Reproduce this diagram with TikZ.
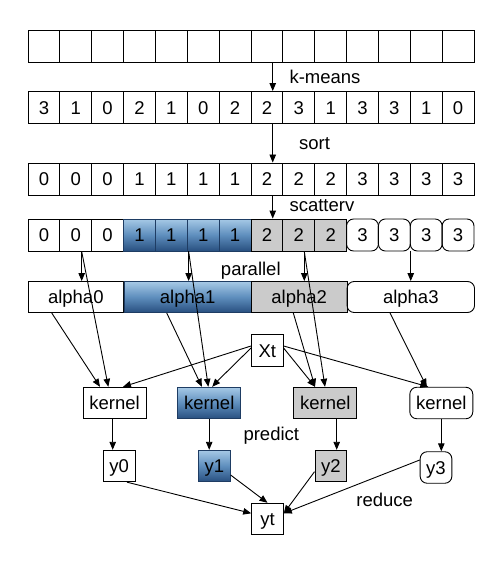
\documentclass[tikz,border=0pt]{standalone}
\usepackage{fontspec}
\setmainfont{Liberation Sans}
\usetikzlibrary{arrows.meta}
\definecolor{bluetop}{HTML}{A6C9E6}
\definecolor{bluemid}{HTML}{5E8EBD}
\definecolor{bluebot}{HTML}{284F7F}
\definecolor{blueline}{HTML}{1E3C63}
\definecolor{grayfill}{HTML}{CBCBCB}
\begin{document}
\begin{tikzpicture}[x=1pt,y=-1pt,
  font=\fontsize{18.5}{20}\selectfont,
  base/.style={draw=black, line width=0.9pt, inner sep=0pt, text height=13.2pt, text depth=0pt},
  cell/.style={base, minimum width=31.857pt, minimum height=32pt},
  bluebox/.style={draw=blueline, top color=bluetop, bottom color=bluebot, middle color=bluemid},
  graybox/.style={fill=grayfill},
  roundbox/.style={rounded corners=7pt},
  kbox/.style={base, minimum width=63pt, minimum height=31.5pt},
  ybox/.style={base, minimum width=31.7pt, minimum height=31.5pt},
  lbl/.style={inner sep=0pt, text height=13.2pt, text depth=0pt},
  arr/.style={line width=0.9pt, -{Triangle[length=8pt,width=6.5pt]}},
  ln/.style={line width=0.9pt}
]
\useasboundingbox (0,0) rectangle (495,569);
\fill[white] (0,0) rectangle (495,569);

% row 1 (empty)
\foreach \i in {0,...,13}
  \node[cell] (r1c\i) at ({28+(\i+0.5)*31.857},46) {};
% row 2 (k-means)
\foreach \v [count=\j from 0] in {3,1,0,2,1,0,2,2,3,1,3,3,1,0}
  \node[cell] (r2c\j) at ({28+(\j+0.5)*31.857},107.5) {\v};
% row 3 (sorted)
\foreach \v [count=\j from 0] in {0,0,0,1,1,1,1,2,2,2,3,3,3,3}
  \node[cell] (r3c\j) at ({28+(\j+0.5)*31.857},179) {\v};
% row 4 (scatterv)
\foreach \i in {0,1,2}
  \node[cell] (r4c\i) at ({28+(\i+0.5)*31.857},235) {0};
\foreach \i in {3,4,5,6}
  \node[cell, bluebox] (r4c\i) at ({28+(\i+0.5)*31.857},235) {1};
\foreach \i in {7,8,9}
  \node[cell, graybox] (r4c\i) at ({28+(\i+0.5)*31.857},235) {2};
\foreach \i in {10,11,12,13}
  \node[cell, roundbox] (r4c\i) at ({28+(\i+0.5)*31.857},235) {3};

% alpha row
\node[base, minimum width=95.57pt, minimum height=31pt] (a0) at (75.8,297) {alpha0};
\node[base, bluebox, minimum width=127.43pt, minimum height=31pt] (a1) at (187.7,297) {alpha1};
\node[base, graybox, minimum width=95.57pt, minimum height=31pt] (a2) at (299.2,297) {alpha2};
\node[base, roundbox, minimum width=127.43pt, minimum height=31pt] (a3) at (410.8,297) {alpha3};

% Xt, kernels, outputs
\node[ybox] (xt) at (267.3,350.5) {Xt};
\node[kbox] (k0) at (114.5,403) {kernel};
\node[kbox, bluebox] (k1) at (209.2,403) {kernel};
\node[kbox, graybox] (k2) at (325.3,403) {kernel};
\node[kbox, roundbox] (k3) at (441.3,403) {kernel};
\node[ybox] (y0) at (119.2,466) {y0};
\node[ybox, bluebox] (y1) at (214.3,466) {y1};
\node[ybox, graybox] (y2) at (330.8,466) {y2};
\node[ybox, roundbox] (y3) at (436,467.5) {y3};
\node[ybox] (yt) at (267.5,519) {yt};

% labels
\node[lbl, anchor=west] (lkm) at (289.3,76.7) {k-means};
\node[lbl, anchor=west] (lsort) at (299,142.7) {sort};
\node[lbl, anchor=west] (lsc) at (289.3,204.8) {scatterv};
\node[lbl] (lpar) at (250.8,268.4) {parallel};
\node[lbl] (lpred) at (271.3,434.2) {predict};
\node[lbl] (lred) at (384.7,499.4) {reduce};

% row-to-row arrows
\draw[arr] ([xshift=5.8pt]r1c7.south) -- ([xshift=5.8pt]r2c7.north);
\draw[arr] ([xshift=5.8pt]r2c7.south) -- ([xshift=5.8pt]r3c7.north);
\draw[arr] ([xshift=5.8pt]r3c7.south) -- ([xshift=5.8pt]r4c7.north);

% scatter points
\coordinate (s0) at ([xshift=5.9pt]r4c1.south);
\coordinate (s1) at ([xshift=0.9pt]r4c4.south east);
\coordinate (s2) at ([xshift=5.5pt]r4c8.south);
\coordinate (s3) at (r4c11.south east);
\draw[arr] (s0) -- (s0 |- a0.north);
\draw[arr] (s1) -- (s1 |- a1.north);
\draw[arr] (s2) -- (s2 |- a2.north);
\draw[arr] (s3) -- (s3 |- a3.north);

% data straight to kernels
\draw[arr] (s0) -- ([xshift=-6.2pt]k0.north);
\draw[arr] (s1) -- ([xshift=-0.9pt]k1.north);
\draw[arr] (s2) -- ([xshift=-0.3pt]k2.north);

% alpha to kernels
\draw[arr] ([xshift=-24.1pt]a0.south) -- ([xshift=-14.5pt]k0.north);
\draw[arr] ([xshift=-21pt]a1.south) -- ([xshift=-7.3pt]k1.north);
\draw[arr] ([xshift=-5.9pt]a2.south) -- ([xshift=-10.3pt]k2.north);
\draw[arr] ([xshift=-20.8pt]a3.south) -- ([xshift=-14.6pt]k3.north);

% Xt to kernels
\draw[arr] ([yshift=4.5pt]xt.west) -- ([xshift=8.5pt]k0.north);
\draw[arr] ([yshift=2.5pt]xt.west) -- ([xshift=3pt]k1.north);
\draw[arr] ([yshift=2.5pt]xt.east) -- ([xshift=-10.3pt]k2.north);
\draw[arr] ([yshift=4.5pt]xt.east) -- ([xshift=-13pt]k3.north);

% kernels to outputs
\coordinate (t0) at ([xshift=-1.8pt]k0.south);
\coordinate (t1) at (k1.south);
\coordinate (t2) at ([xshift=11.4pt]k2.south);
\coordinate (t3) at (k3.south);
\draw[arr] (t0) -- (t0 |- y0.north);
\draw[arr] (t1) -- (t1 |- y1.north);
\draw[arr] (t2) -- (t2 |- y2.north);
\draw[arr] (t3) -- (t3 |- y3.north);

% reduce
\draw[arr] ([xshift=7.8pt]y0.south) -- ([yshift=5.7pt]yt.west);
\draw[arr] ([yshift=-9pt]y1.east) -- (yt.north);
\draw[arr] ([yshift=-5.7pt]y2.west) -- ([yshift=5.7pt]yt.east);
\draw[arr] ([yshift=7.5pt]y3.west) -- ([yshift=5.7pt]yt.east);
\end{tikzpicture}
\end{document}
